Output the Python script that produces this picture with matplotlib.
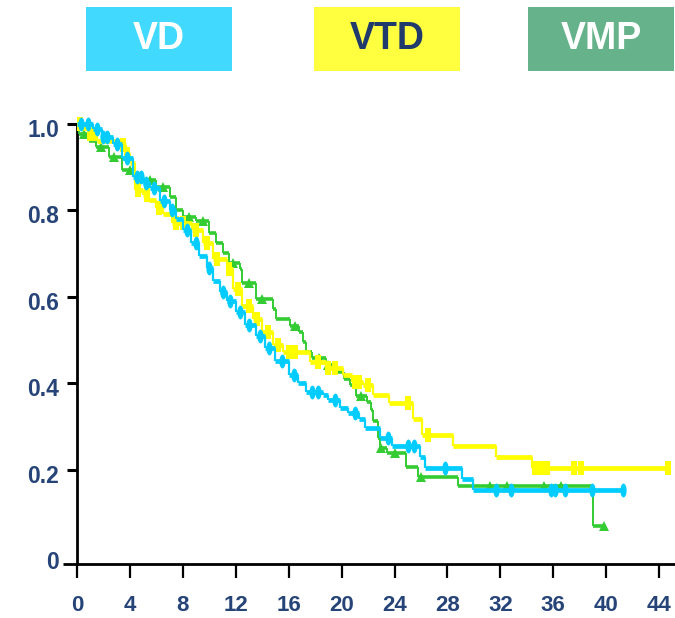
import numpy as np
import matplotlib
matplotlib.use("Agg")
import matplotlib.pyplot as plt
from matplotlib.path import Path
from matplotlib.transforms import Affine2D, ScaledTranslation
from matplotlib.patches import Rectangle

# ---------------- data ----------------
vd_times = [0, 1.2, 1.9, 2.7, 3.4, 4.2, 5.0, 5.5, 6.3, 7.0, 7.5, 8.0, 8.6, 9.2, 9.8,
            10.3, 10.8, 11.3, 12.0, 12.7, 13.5, 14.2, 15.0, 16.0, 16.7, 17.3, 18.6,
            19.0, 19.9, 20.5, 21.3, 21.8, 22.9, 23.8, 25.9, 26.3, 29.1, 29.9]
vd_surv = [1.0, 0.987, 0.968, 0.953, 0.92, 0.877, 0.862, 0.85, 0.82, 0.80, 0.78, 0.754,
           0.725, 0.693, 0.665, 0.635, 0.61, 0.59, 0.564, 0.535, 0.51, 0.48, 0.45, 0.418,
           0.40, 0.38, 0.372, 0.362, 0.342, 0.33, 0.316, 0.296, 0.273, 0.254, 0.23,
           0.204, 0.179, 0.153]
vd_end = 41.3
vd_cens = [0.3, 0.8, 1.5, 2.0, 2.3, 3.0, 3.8, 4.5, 4.8, 5.2, 5.8, 6.6, 7.2, 8.3, 9.0,
           10.0, 11.0, 11.6, 12.3, 13.0, 13.8, 14.5, 15.5, 16.4, 17.8, 18.2, 19.5, 21.0,
           23.5, 25.0, 25.5, 27.8, 31.7, 32.8, 35.8, 36.1, 36.9, 38.9, 41.3]

vtd_times = [0, 0.3, 0.9, 1.5, 3.4, 3.7, 4.0, 4.4, 5.0, 5.45, 6.0, 6.5, 7.2, 8.7, 9.5,
             10.25, 11.3, 11.8, 12.5, 13.3, 14.0, 14.8, 15.55, 17.6, 18.8, 20.1, 20.8,
             21.6, 22.4, 23.6, 25.4, 26.1, 28.4, 31.7, 34.4]
vtd_surv = [1.0, 0.99, 0.975, 0.96, 0.95, 0.93, 0.91, 0.846, 0.835, 0.823, 0.805, 0.79,
            0.77, 0.754, 0.724, 0.686, 0.663, 0.617, 0.579, 0.548, 0.518, 0.487, 0.472,
            0.449, 0.434, 0.418, 0.403, 0.396, 0.373, 0.355, 0.316, 0.281, 0.254, 0.229,
            0.204]
vtd_end = 44.7
vtd_cens = [0.2, 1.0, 1.3, 3.5, 3.8, 4.6, 5.3, 6.2, 7.5, 8.0, 9.0, 9.8, 10.6, 11.5,
            12.2, 13.0, 13.6, 14.4, 15.2, 16.0, 16.5, 18.2, 19.0, 19.5, 21.0, 21.3, 22.0,
            25.0, 26.5, 34.6, 34.9, 35.2, 35.5, 37.6, 38.1, 44.7]

vmp_times = [0, 0.15, 0.9, 1.4, 2.4, 3.4, 4.4, 5.0, 5.96, 7.0, 7.5, 8.0, 9.0, 10.0, 10.5,
             11.0, 11.5, 12.3, 12.5, 13.5, 14.8, 15.05, 16.1, 16.8, 17.1, 17.3, 17.8,
             18.8, 19.6, 20.2, 20.6, 21.1, 21.9, 22.2, 22.4, 22.75, 22.9, 23.4, 24.9,
             25.8, 28.8, 39.0]
vmp_surv = [1.0, 0.976, 0.96, 0.945, 0.922, 0.892, 0.884, 0.87, 0.854, 0.83, 0.80, 0.785,
            0.775, 0.747, 0.724, 0.70, 0.678, 0.663, 0.632, 0.594, 0.571, 0.548, 0.533,
            0.518, 0.495, 0.472, 0.457, 0.441, 0.426, 0.41, 0.396, 0.369, 0.357, 0.338,
            0.312, 0.273, 0.25, 0.239, 0.205, 0.182, 0.162, 0.07]
vmp_end = 39.8
vmp_cens = [0.5, 1.8, 2.8, 4.0, 5.5, 6.5, 8.5, 9.5, 11.8, 13.0, 14.0, 16.5, 18.3, 19.0,
            21.5, 23.0, 24.0, 26.0, 31.2, 32.5, 35.3, 36.6, 39.8]

x_ticks = [0, 4, 8, 12, 16, 20, 24, 28, 32, 36, 40, 44]
y_ticks = [0, 0.2, 0.4, 0.6, 0.8, 1.0]
y_labels = ["0", "0.2", "0.4", "0.6", "0.8", "1.0"]

groups = ["VD", "VTD", "VMP"]

# ---------------- style ----------------
FONT = ["Liberation Sans", "DejaVu Sans"]
NAVY = "#264478"
C_VD = "#00CCFF"
C_VTD = "#FFFF00"
C_VMP = "#33CC33"

ellipse = Path.unit_circle().transformed(Affine2D().scale(0.45, 1.0))
bar = Path([(-0.4, -1), (0.4, -1), (0.4, 1), (-0.4, 1), (-0.4, -1)],
           [Path.MOVETO, Path.LINETO, Path.LINETO, Path.LINETO, Path.CLOSEPOLY])

W, H = 675, 618
AX_L, AX_TOP, AX_BOT = 77, 123.6, 564
fig = plt.figure(figsize=(6.75, 6.18), dpi=100)
ax = fig.add_axes([AX_L / W, (H - AX_BOT) / H, 1 - AX_L / W, (AX_BOT - AX_TOP) / H])

YMIN, YMAX = -0.0183, 0.99
ax.set_xlim(0, 45.2)
ax.set_ylim(YMIN, YMAX)


def draw_curve(times, surv, end, cens, color, hlw, vlw, marker, ms, z):
    t = list(times) + [end]
    for i in range(len(surv)):
        ax.hlines(surv[i], t[i], t[i + 1], colors=color, lw=hlw, zorder=z,
                  clip_on=False)
    for i in range(1, len(surv)):
        ax.vlines(times[i], surv[i], surv[i - 1], colors=color, lw=vlw, zorder=z,
                  clip_on=False)
    tarr = np.array(times)
    cy = [surv[np.searchsorted(tarr, c, side="right") - 1] for c in cens]
    ax.plot(cens, cy, linestyle="none", marker=marker, markersize=ms,
            color=color, markeredgewidth=0, zorder=z + 0.5, clip_on=False)


draw_curve(vmp_times, vmp_surv, vmp_end, vmp_cens, C_VMP, 2.6, 1.4, "^", 7, 3)
draw_curve(vtd_times, vtd_surv, vtd_end, vtd_cens, C_VTD, 3.4, 1.6, bar, 10, 4)
draw_curve(vd_times, vd_surv, vd_end, vd_cens, C_VD, 3.4, 1.6, ellipse, 10, 5)

# axes styling
for s in ["top", "right"]:
    ax.spines[s].set_visible(False)
for s in ["left", "bottom"]:
    ax.spines[s].set_linewidth(2)
    ax.spines[s].set_color("black")

ax.set_xticks(x_ticks)
ax.set_xticklabels([str(v) for v in x_ticks])
ax.set_yticks(y_ticks)
ax.set_yticklabels(y_labels)
ax.tick_params(axis="x", length=10, width=1.6, direction="out", pad=12.5,
               labelcolor=NAVY)
ax.tick_params(axis="y", length=7, width=2.2, direction="out", pad=6,
               labelcolor=NAVY)
ax.yaxis.get_major_ticks()[0].tick1line.set_visible(False)
for lab in ax.get_xticklabels():
    lab.set_fontfamily(FONT)
    lab.set_fontweight("bold")
    lab.set_fontsize(16)
shift = ScaledTranslation(0, -4 / 100, fig.dpi_scale_trans)
for lab in ax.get_yticklabels():
    lab.set_fontfamily(FONT)
    lab.set_fontweight("bold")
    lab.set_fontsize(16.5)
    lab.set_transform(lab.get_transform() + shift)

# x-axis line extension to the left
ax.plot([-1.05, 0], [YMIN, YMIN], color="black", lw=2, clip_on=False,
        solid_capstyle="butt")

# legend boxes
boxes = [(86, "#42D9FF", "white"), (314, "#FFFF40", "#1F3A6B"), (528, "#66B28A", "white")]
for name, (x0, fc, tc) in zip(groups, boxes):
    w = 146
    rect = Rectangle((x0 / W, 1 - 71 / H), w / W, 64 / H,
                     transform=fig.transFigure, facecolor=fc, edgecolor="none")
    fig.patches.append(rect)
    fig.text((x0 + w / 2) / W, 1 - 39 / H, name, ha="center", va="center",
             color=tc, fontsize=27, fontweight="bold", family=FONT)

fig.savefig("out.png", dpi=100)
